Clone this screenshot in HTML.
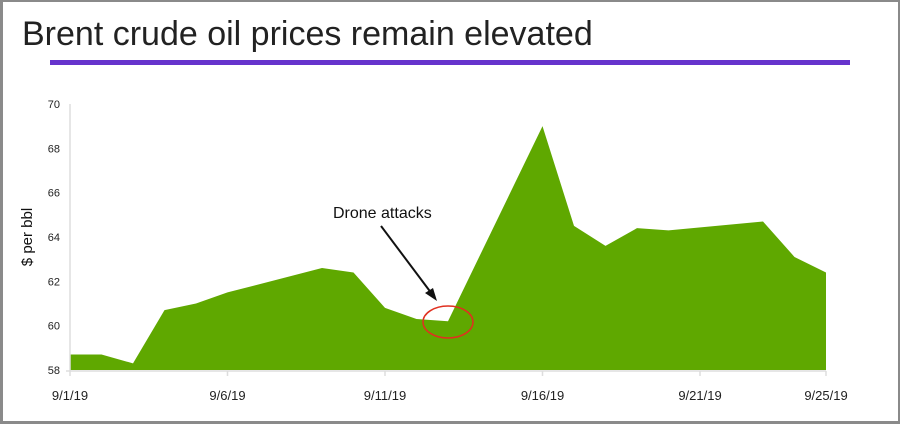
<!DOCTYPE html>
<html><head><meta charset="utf-8"><style>
body{margin:0;background:#fff;font-family:"Liberation Sans",sans-serif}
#f{position:relative;width:900px;height:424px;box-sizing:border-box;border:3px solid #8a8a8a;border-top-width:2px;border-right-width:2px;overflow:hidden}
</style></head><body>
<div id="f">
<svg id="c" width="900" height="424" style="position:absolute;left:-3px;top:-2px">
<text x="22" y="45" font-size="34" font-weight="300" fill="#222">Brent crude oil prices remain elevated</text>
<rect x="50" y="60" width="800" height="5" fill="#6633cc"/>
<text transform="translate(32,237) rotate(-90)" text-anchor="middle" font-size="15" fill="#111">$ per bbl</text>
<g id="g"></g>
<text x="333" y="218" font-size="16" fill="#111">Drone attacks</text>
<line x1="381" y1="226" x2="432" y2="294" stroke="#111" stroke-width="2"/>
<polygon points="437,301 425,293 433,288" fill="#111"/>
<ellipse cx="448" cy="322" rx="25" ry="16" fill="none" stroke="#e03020" stroke-width="1.5"/>
</svg></div>
<script>
const days=[0,1,2,3,4,5,8,9,10,11,12,15,16,17,18,19,22,23,24];
const prices=[58.7,58.7,58.3,60.7,61.0,61.5,62.6,62.4,60.8,60.3,60.2,69.0,64.5,63.6,64.4,64.3,64.7,63.1,62.4];
const yTicks=[58,60,62,64,66,68,70];
const xTickDays=[0,5,10,15,20,24];
const xTickLabels=["9/1/19","9/6/19","9/11/19","9/16/19","9/21/19","9/25/19"];
const X=d=>70+d*(826-70)/24, Y=v=>370-(v-58)*(370-104)/12;
const g=document.getElementById('g'),NS='http://www.w3.org/2000/svg';
function mk(t,a,n){const e=document.createElementNS(NS,t);for(const k in a)e.setAttribute(k,a[k]);g.appendChild(e);return e;}
let p='M'+X(days[0])+','+Y(58);days.forEach((d,i)=>p+=' L'+X(d)+','+Y(prices[i]));p+=' L'+X(days[days.length-1])+','+Y(58)+'Z';
mk('path',{d:p,fill:'#5fa800'},'price-area');
mk('line',{x1:70,y1:104,x2:70,y2:371,stroke:'#ddd','stroke-width':1.5},'y-axis-line');
mk('line',{x1:66,y1:371,x2:826,y2:371,stroke:'#ddd','stroke-width':1.5},'x-axis-line');
yTicks.forEach(v=>{const t=mk('text',{x:60,y:Y(v)+4,'text-anchor':'end','font-size':11,fill:'#222'},'y-tick-label');t.textContent=v;});
xTickDays.forEach((d,i)=>{mk('line',{x1:X(d),y1:371,x2:X(d),y2:376,stroke:'#ddd','stroke-width':1.5},'x-tick');
const t=mk('text',{x:X(d),y:400,'text-anchor':'middle','font-size':13,fill:'#222'},'x-tick-label');t.textContent=xTickLabels[i];});
</script></body></html>
